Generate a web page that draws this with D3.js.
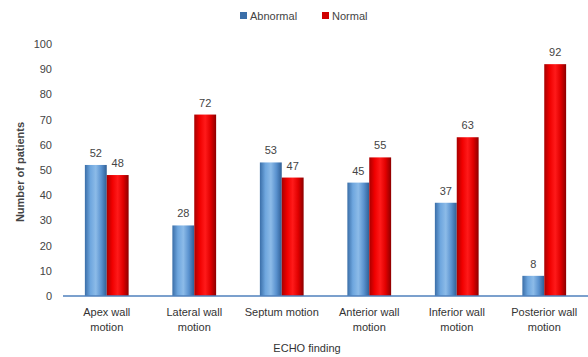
<!DOCTYPE html>
<html lang="en">
<head>
    <meta charset="UTF-8">
    <script src="https://d3js.org/d3.v7.min.js"></script>
    <style>
        body{ margin:0; background:#fff; }
        text{ font-family: "Liberation Sans", Arial, sans-serif; }
    </style>
    <title>ECHO finding</title>
</head>
<body>
    <div class="canvas"></div>
</body>
<script>
    const categories = [
        ['Apex wall','motion'],
        ['Lateral wall','motion'],
        ['Septum motion'],
        ['Anterior wall','motion'],
        ['Inferior wall','motion'],
        ['Posterior wall','motion']
    ];
    const abnormal = [52, 28, 53, 45, 37, 8];
    const normal = [48, 72, 47, 55, 63, 92];
    const yTicks = [0,10,20,30,40,50,60,70,80,90,100];
    const seriesNames = ['Abnormal','Normal'];

    const width = 588;
    const height = 357;
    let [mt,mb,mr,ml] = [44,61,0,63];

    const svg = d3.select('.canvas')
                    .append('svg')
                    .attr('width',width)
                    .attr('height',height);

    const graphWidth = width - ml - mr;
    const graphHeight = height - mt - mb;
    const graph = svg.append('g')
                    .attr('transform',`translate(${ml},${mt})`);

    // cylinder-ish shading like the original office chart
    const defs = svg.append('defs');
    const grads = [
        {id:'gBlue', stops:['#3a6ea8','#6ea6de','#8cbbe8','#5a92cf','#2f5f96']},
        {id:'gRed', stops:['#a80000','#f00000','#ff1a1a','#e00000','#8c0000']}
    ];
    grads.forEach(g=>{
        const lg = defs.append('linearGradient').attr('id',g.id)
                    .attr('x1','0').attr('x2','1').attr('y1','0').attr('y2','0');
        g.stops.forEach((c,i)=>{
            lg.append('stop').attr('offset',(i/(g.stops.length-1))).attr('stop-color',c);
        });
    });

    const x = d3.scaleBand()
                .domain(categories.map(d=>d.join(' ')))
                .range([0,graphWidth])
                .paddingInner(0.5)
                .paddingOuter(0.25);
    const sub = d3.scaleBand()
                .domain(seriesNames)
                .range([0,x.bandwidth()]);
    const y = d3.scaleLinear()
                .domain([0,100])
                .range([graphHeight,0]);

    const data = categories.map((c,i)=>({
        name:c.join(' '),
        lines:c,
        values:[{s:'Abnormal',v:abnormal[i]},{s:'Normal',v:normal[i]}]
    }));

    const groups = graph.selectAll('g.cat')
                    .data(data)
                    .enter()
                    .append('g')
                    .attr('class','cat')
                    .attr('transform',d=>`translate(${x(d.name)},0)`);

    groups.selectAll('rect')
        .data(d=>d.values)
        .enter()
        .append('rect')
        .attr('x',d=>sub(d.s))
        .attr('y',d=>y(d.v))
        .attr('width',sub.bandwidth())
        .attr('height',d=>graphHeight - y(d.v))
        .attr('fill',d=>d.s==='Abnormal' ? 'url(#gBlue)' : 'url(#gRed)');

    groups.selectAll('text.val')
        .data(d=>d.values)
        .enter()
        .append('text')
        .attr('class','val')
        .attr('x',d=>sub(d.s) + sub.bandwidth()/2)
        .attr('y',d=>y(d.v) - 8)
        .attr('text-anchor','middle')
        .attr('fill','#444')
        .style('font-size','11px')
        .text(d=>d.v);

    // axes
    const yAxis = d3.axisLeft(y).tickValues(yTicks).tickSize(0).tickPadding(11);
    const yAxisG = graph.append('g').call(yAxis);
    yAxisG.select('.domain').remove();
    yAxisG.selectAll('text')
        .attr('fill','#444')
        .style('font-size','11px')
        .style('font-family','"Liberation Sans", Arial, sans-serif');

    graph.append('line')
        .attr('x1',0).attr('x2',graphWidth)
        .attr('y1',graphHeight).attr('y2',graphHeight)
        .attr('stroke','#4f81bd')
        .attr('stroke-width',1.5);

    // category labels, two lines
    const catLab = graph.selectAll('text.cat')
        .data(data)
        .enter()
        .append('text')
        .attr('class','cat')
        .attr('text-anchor','middle')
        .attr('fill','#333')
        .style('font-size','11px')
        .attr('transform',d=>`translate(${x(d.name)+x.bandwidth()/2},${graphHeight+20})`);
    catLab.selectAll('tspan')
        .data(d=>d.lines)
        .enter()
        .append('tspan')
        .attr('x',0)
        .attr('dy',(d,i)=> i===0 ? 0 : 15)
        .text(d=>d);

    // axis titles
    svg.append('text')
        .attr('x',307).attr('y',352)
        .attr('text-anchor','middle')
        .attr('fill','#333')
        .style('font-size','11px')
        .text('ECHO finding');

    svg.append('text')
        .attr('transform','translate(24,172) rotate(-90)')
        .attr('text-anchor','middle')
        .attr('fill','#444')
        .style('font-size','11px')
        .style('font-weight','bold')
        .text('Number of patients');

    // legend
    const legend = svg.append('g').attr('transform','translate(240,16)');
    const legX = [0,82];
    seriesNames.forEach((s,i)=>{
        const lg = legend.append('g').attr('transform',`translate(${legX[i]},0)`);
        lg.append('rect')
            .attr('x',0).attr('y',-4)
            .attr('width',7).attr('height',7)
            .attr('fill', i===0 ? '#3a6ea8' : '#d00000');
        lg.append('text')
            .attr('x',10).attr('y',4)
            .attr('fill','#444')
            .style('font-size','11px')
            .text(s);
    });
</script>
</html>
